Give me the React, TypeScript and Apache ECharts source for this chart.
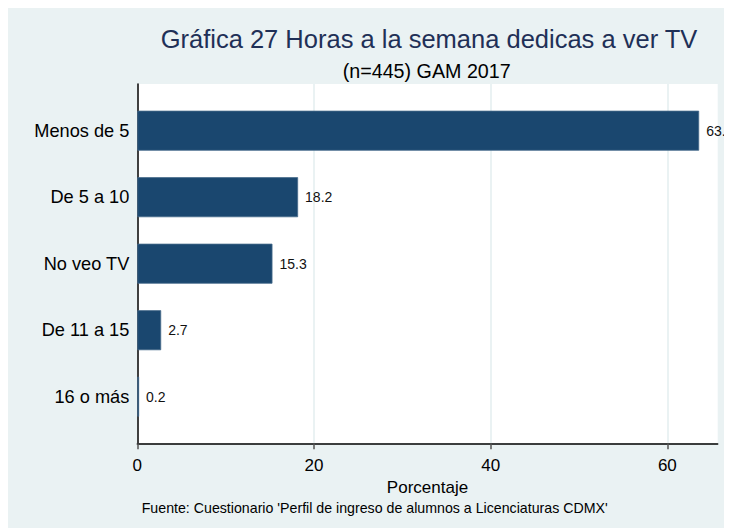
import React, { useEffect, useRef } from "react";
import * as echarts from "echarts";

const categories = ["Menos de 5", "De 5 a 10", "No veo TV", "De 11 a 15", "16 o más"];
const values = [63.6, 18.2, 15.3, 2.7, 0.2];
const xTicks = [0, 20, 40, 60];
const xMax = 65.7;
const titleText = "Gráfica 27 Horas a la semana dedicas a ver TV";
const subtitleText = "(n=445) GAM 2017";
const xAxisTitle = "Porcentaje";
const noteText = "Fuente: Cuestionario 'Perfil de ingreso de alumnos a Licenciaturas CDMX'";

const FONT = "'Liberation Sans', Arial, Helvetica, sans-serif";
const BG = "#eaf2f3";
const BAR = "#1a476f";

export default function App() {
  const ref = useRef<HTMLDivElement>(null);
  useEffect(() => {
    document.body.style.overflow = "hidden";
    const chart = echarts.init(ref.current!, undefined, { renderer: "svg" });
    const gridLeft = 129.3;
    const gridRight = 14.3;
    chart.setOption({
      animation: false,
      backgroundColor: BG,
      textStyle: { fontFamily: FONT },
      grid: [
        {
          left: gridLeft,
          right: gridRight,
          top: 76,
          height: 359.3,
          show: true,
          backgroundColor: "#ffffff",
          borderWidth: 0,
          outerBoundsMode: "none",
          containLabel: false,
        },
        {
          left: gridLeft,
          right: gridRight,
          top: 89.45,
          height: 332.5,
          show: false,
          outerBoundsMode: "none",
          containLabel: false,
        },
      ],
      xAxis: [
        {
          type: "value",
          gridIndex: 0,
          min: 0,
          max: xMax,
          interval: 20,
          name: xAxisTitle,
          nameLocation: "middle",
          nameGap: 31,
          nameTextStyle: { fontSize: 17, color: "#000", fontFamily: FONT },
          axisLine: { show: true, lineStyle: { color: "#000", width: 1.5 } },
          axisTick: {
            show: true,
            length: 6,
            customValues: xTicks,
            lineStyle: { color: "#555", width: 1.5 },
          },
          axisLabel: {
            show: true,
            customValues: xTicks,
            fontSize: 17,
            color: "#000",
            margin: 14,
            fontFamily: FONT,
          },
          splitLine: {
            show: true,
            showMinLine: false,
            showMaxLine: true,
            lineStyle: { color: BG, width: 2 },
          },
        },
        {
          type: "value",
          gridIndex: 1,
          min: 0,
          max: xMax,
          show: false,
          splitLine: { show: false },
        },
      ],
      yAxis: [
        {
          type: "category",
          gridIndex: 0,
          data: [""],
          axisLine: { show: true, lineStyle: { color: "#000", width: 1.5 } },
          axisTick: { show: false },
          axisLabel: { show: false },
          splitLine: { show: false },
        },
        {
          type: "category",
          gridIndex: 1,
          inverse: true,
          data: categories,
          axisLine: { show: false },
          axisTick: { show: false },
          axisLabel: { fontSize: 18.2, color: "#000", margin: 8, fontFamily: FONT },
          splitLine: { show: false },
        },
      ],
      series: [
        {
          type: "bar",
          xAxisIndex: 1,
          yAxisIndex: 1,
          data: values,
          barWidth: 40,
          itemStyle: { color: BAR, borderColor: "#46698a", borderWidth: 0.8 },
          label: {
            show: true,
            position: "right",
            distance: 7,
            fontSize: 14,
            color: "#111",
            fontFamily: FONT,
            formatter: (p: any) => Number(p.value).toFixed(1),
          },
        },
      ],
      graphic: [
        {
          type: "text",
          x: 421,
          y: 30.5,
          style: {
            text: titleText,
            fontSize: 25.5,
            fill: "#1f3057",
            fontFamily: FONT,
            align: "center",
            verticalAlign: "middle",
          },
        },
        {
          type: "text",
          x: 418.7,
          y: 63,
          style: {
            text: subtitleText,
            fontSize: 19.7,
            fill: "#000",
            fontFamily: FONT,
            align: "center",
            verticalAlign: "middle",
          },
        },
        {
          type: "text",
          x: 133.7,
          y: 500,
          style: {
            text: noteText,
            fontSize: 14.2,
            fill: "#000",
            fontFamily: FONT,
            align: "left",
            verticalAlign: "middle",
          },
        },
      ],
    });
    return () => chart.dispose();
  }, []);
  return <div ref={ref} style={{ width: 724, height: 520 }} />;
}
